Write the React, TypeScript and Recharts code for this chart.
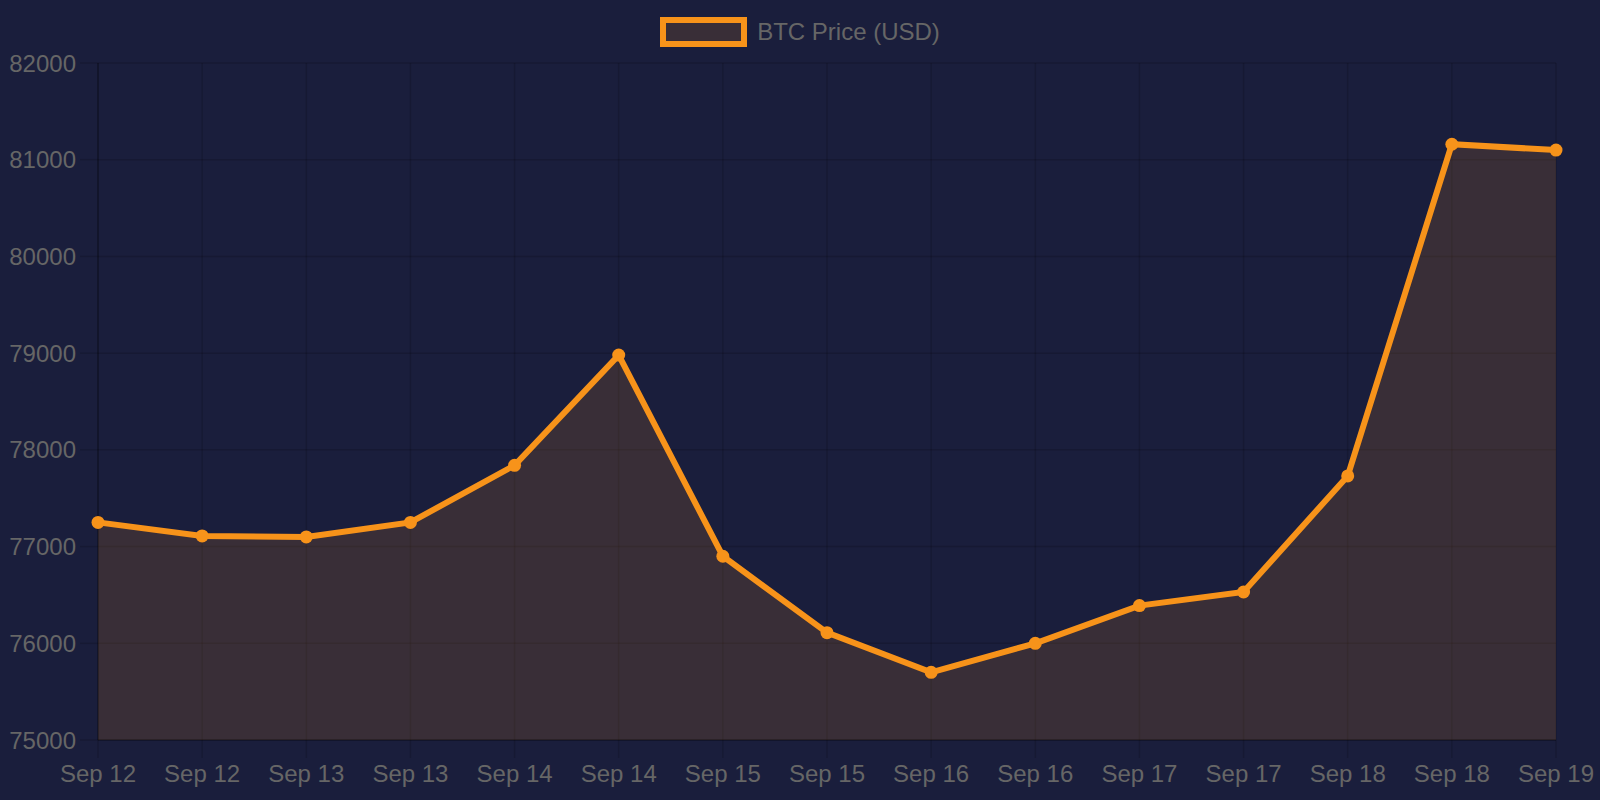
import React from "react"
import { AreaChart, Area, XAxis, YAxis, CartesianGrid, Legend } from "recharts"

const days = [
  "Sep 12", "Sep 12", "Sep 13", "Sep 13", "Sep 14", "Sep 14", "Sep 15", "Sep 15",
  "Sep 16", "Sep 16", "Sep 17", "Sep 17", "Sep 18", "Sep 18", "Sep 19",
]
const prices = [
  77250, 77110, 77100, 77250, 77840, 78980, 76900, 76110,
  75700, 76000, 76390, 76530, 77730, 81160, 81100,
]
const priceTicks = [75000, 76000, 77000, 78000, 79000, 80000, 81000, 82000]

const data = days.map((day, i) => ({ day, price: prices[i] }))

const BG = "#1a1e3c"
const ORANGE = "#f7931a"
const GRID = "rgba(0,0,0,0.14)"
const TEXT = "#666"
const FONT = "'Liberation Sans', Arial, Helvetica, sans-serif"

function LegendBox() {
  return (
    <div
      style={{
        width: 1600,
        height: 63,
        display: "flex",
        justifyContent: "center",
        alignItems: "flex-start",
        fontFamily: FONT,
      }}
    >
      <div style={{ display: "flex", alignItems: "center", marginTop: 17 }}>
        <div
          style={{
            width: 75,
            height: 18,
            border: `6px solid ${ORANGE}`,
            background: "rgba(247,147,26,0.14)",
          }}
        />
        <span style={{ marginLeft: 10, fontSize: 24, color: TEXT }}>BTC Price (USD)</span>
      </div>
    </div>
  )
}

export default function App() {
  return (
    <div style={{ position: "absolute", left: 0, top: 0, width: 1600, height: 800, background: BG }}>
      <AreaChart
        width={1600}
        height={800}
        data={data}
        margin={{ top: 0, right: 44, bottom: 0, left: 0 }}
        style={{ fontFamily: FONT }}
      >
        <CartesianGrid stroke={GRID} strokeWidth={1.5} />
        <XAxis
          dataKey="day"
          height={60}
          tickSize={18}
          tickMargin={7}
          tick={{ fill: TEXT, fontSize: 24 }}
          tickLine={{ stroke: GRID, strokeWidth: 1.5 }}
          axisLine={{ stroke: "rgba(0,0,0,0.25)", strokeWidth: 1.5 }}
          interval={0}
        />
        <YAxis
          width={98}
          domain={[75000, 82000]}
          ticks={priceTicks}
          tickSize={18}
          tickMargin={4}
          tick={{ fill: TEXT, fontSize: 24 }}
          tickLine={{ stroke: GRID, strokeWidth: 1.5 }}
          axisLine={{ stroke: "rgba(0,0,0,0.25)", strokeWidth: 1.5 }}
          allowDataOverflow
        />
        <Legend verticalAlign="top" content={() => <LegendBox />} wrapperStyle={{ top: 0, left: 0 }} />
        <Area
          type="linear"
          dataKey="price"
          name="BTC Price (USD)"
          stroke={ORANGE}
          strokeWidth={6}
          fill={ORANGE}
          fillOpacity={0.14}
          dot={{ r: 6.5, fill: ORANGE, stroke: ORANGE, strokeWidth: 0, fillOpacity: 1 }}
          activeDot={false}
          isAnimationActive={false}
        />
      </AreaChart>
    </div>
  )
}
